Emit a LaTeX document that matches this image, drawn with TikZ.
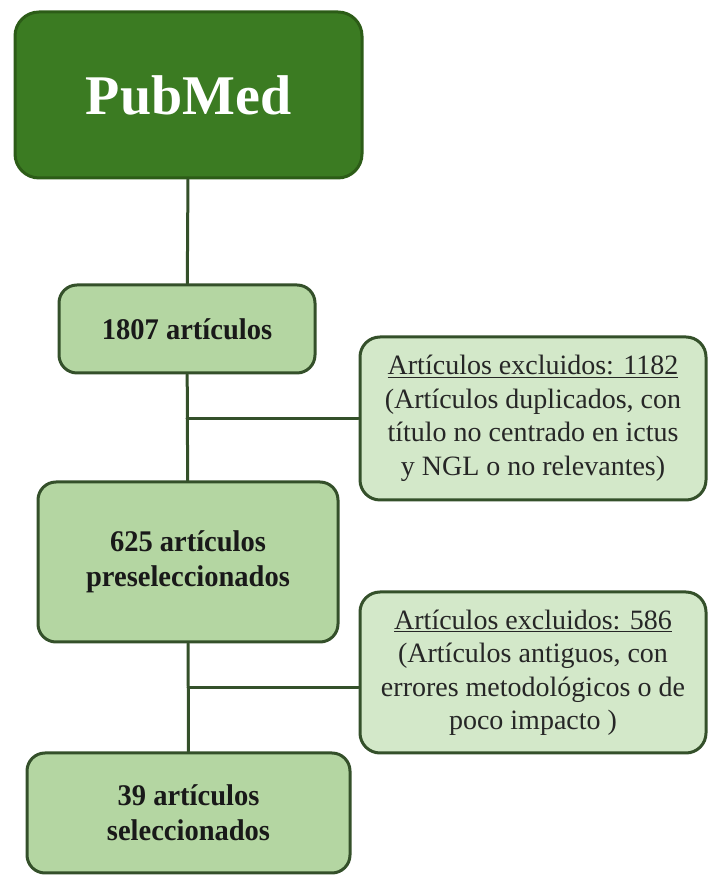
\documentclass[tikz,border=0pt]{standalone}
\usepackage{fontspec}
\setmainfont{Liberation Serif}
\newfontfamily\boxfont{Liberation Serif}[FakeStretch=0.95]
\definecolor{pubgreen}{HTML}{3B7B22}
\definecolor{pubedge}{HTML}{2C5C17}
\definecolor{stagefill}{HTML}{B4D6A2}
\definecolor{notefill}{HTML}{D3E8C9}
\definecolor{boxedge}{HTML}{34502A}
\begin{document}
\begin{tikzpicture}[x=1pt, y=1pt, line join=round, line cap=round,
	mainbox/.style={draw=pubedge, fill=pubgreen, line width=3, rounded corners=24,
		text=white, font=\bfseries\fontsize{56}{60}\selectfont},
	stagebox/.style={draw=boxedge, fill=stagefill, line width=3, rounded corners=18,
		align=center, text=black!90, font=\boxfont\bfseries\fontsize{30}{35}\selectfont},
	notebox/.style={draw=boxedge, fill=notefill, line width=3, rounded corners=20,
		align=center, inner sep=0, minimum width=346,
		text=black!85, font=\fontsize{28}{33.5}\selectfont},
	link/.style={draw=boxedge, line width=3}]
	\useasboundingbox (0,0) rectangle (711,875);
	% main column
	\node[mainbox, minimum width=347, minimum height=166] (pubmed) at (188.5,780) {PubMed};
	\node[stagebox, minimum width=256, minimum height=88] (total) at (187,546) {1807 artículos};
	\node[stagebox, minimum width=300, minimum height=160] (presel) at (188,313)
		{625 artículos\\preseleccionados};
	\node[stagebox, minimum width=323, minimum height=120] (sel) at (188.5,62)
		{39 artículos\\seleccionados};
	% excluded articles
	\node[notebox, minimum height=163] (excl1) at (533,456.5) {\underline{Artículos excluidos: 1182}\\
		(Artículos duplicados, con\\título no centrado en ictus\\y NGL o no relevantes)};
	\node[notebox, minimum height=161] (excl2) at (533,202.5) {\underline{Artículos excluidos: 586}\\
		(Artículos antiguos, con\\errores metodológicos o de\\poco impacto )};
	% connectors
	\draw[link] (pubmed) -- (total);
	\draw[link] (total) -- (presel);
	\draw[link] (presel) -- (sel);
	\draw[link] (excl1.west) -- (excl1.west -| total.south);
	\draw[link] ([yshift=-15]excl2.west) -- ([yshift=-15]excl2.west -| presel.south);
\end{tikzpicture}
\end{document}
